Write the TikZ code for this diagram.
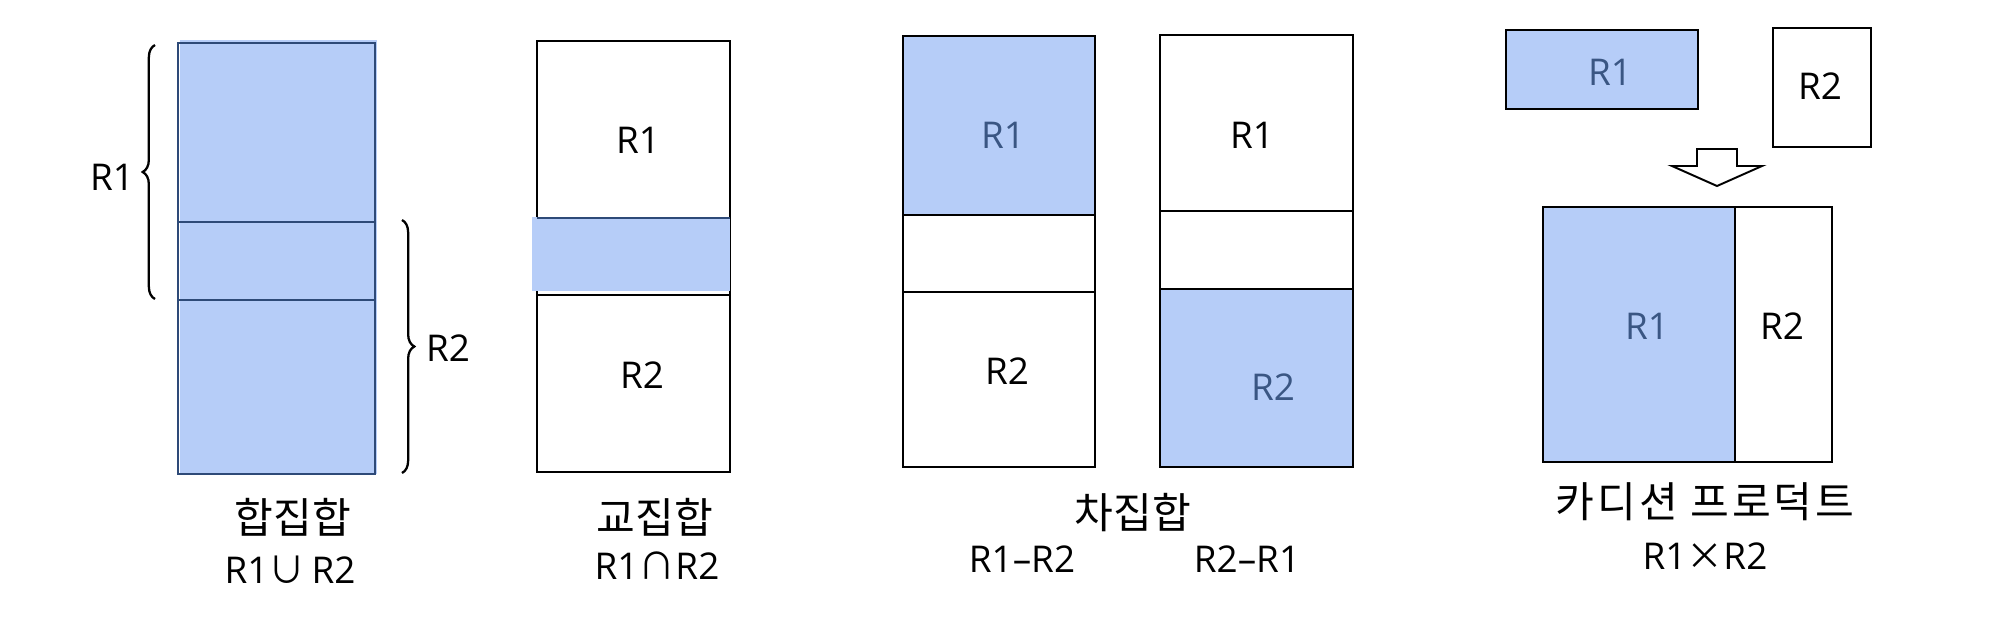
\documentclass[tikz,border=0pt]{standalone}
\usepackage{fontspec}
\setmainfont{Open Sans}
\newfontfamily\kr{Noto Sans CJK KR}
\newfontfamily\krwide[LetterSpace=7]{Noto Sans CJK KR}
\usetikzlibrary{decorations.pathreplacing}
\definecolor{setblue}{HTML}{B6CDF8}
\definecolor{setedge}{HTML}{2E4A78}
\definecolor{settext}{HTML}{3A5683}
\tikzset{
  relbox/.style={draw=black, line width=1.6pt},
  unionline/.style={draw=setedge, line width=1.6pt},
  hit/.style={fill=setblue},
  lbl/.style={font=\fontsize{21}{25}\selectfont, inner sep=0pt},
  hitlbl/.style={lbl, text=settext},
  krlbl/.style={font=\kr\fontsize{24}{28}\selectfont, inner sep=0pt},
  setbrace/.style={decorate, decoration={brace, amplitude=7pt}, line width=1.3pt}
}
\begin{document}
\begin{tikzpicture}[x=0.02cm, y=-0.02cm]
\useasboundingbox (0,0) rectangle (2000,627);

% Union
\fill[hit] (180,40) rectangle (377,474);
\draw[unionline] (178,43) rectangle (375,474);
\draw[unionline] (178,222) -- (375,222);
\draw[unionline] (178,300) -- (375,300);
\coordinate (r1top) at (155,45);
\coordinate (r1bot) at (155,299);
\draw[setbrace] (r1bot) -- (r1top);
\node[lbl] (ur1) at (112,177) {R1};
\coordinate (r2top) at (402,220);
\coordinate (r2bot) at (402,473);
\draw[setbrace] (r2top) -- (r2bot);
\node[lbl] (ur2) at (448,348) {R2};
\node[krlbl] (union) at (293,517) {합집합};
\node[lbl] (unionop) at (290,570) {R1{\kr∪}\,R2};

% Intersection
\draw[relbox] (537,41) rectangle (730,472);
\draw[relbox] (537,295) -- (730,295);
\fill[hit] (532,217) rectangle (730,291);
\draw[line width=1.2pt, draw=setedge] (537,218) -- (730,218);
\node[lbl] (ir1) at (638,140) {R1};
\node[lbl] (ir2) at (642,375) {R2};
\node[krlbl] (inter) at (655,517) {교집합};
\node[lbl] (interop) at (657,566) {R1{\kr∩}R2};

% Difference R1-R2
\fill[hit] (903,36) rectangle (1095,215);
\draw[relbox] (903,36) rectangle (1095,467);
\draw[relbox] (903,215) -- (1095,215);
\draw[relbox] (903,292) -- (1095,292);
\node[hitlbl] (dar1) at (1003,135) {R1};
\node[lbl] (dar2) at (1007,371) {R2};

% Difference R2-R1
\fill[hit] (1160,289) rectangle (1353,467);
\draw[relbox] (1160,35) rectangle (1353,467);
\draw[relbox] (1160,211) -- (1353,211);
\draw[relbox] (1160,289) -- (1353,289);
\node[lbl] (dbr1) at (1252,135) {R1};
\node[hitlbl] (dbr2) at (1273,387) {R2};
\node[krlbl] (diff) at (1133,513) {차집합};
\node[lbl] (diffa) at (1022,559) {R1–R2};
\node[lbl] (diffb) at (1247,559) {R2–R1};

% Cartesian product
\fill[hit] (1506,30) rectangle (1698,109);
\draw[relbox, line width=1.2pt] (1506,30) rectangle (1698,109);
\node[hitlbl] (cr1) at (1610,72) {R1};
\draw[relbox, line width=1.2pt] (1773,28) rectangle (1871,147);
\node[lbl] (cr2) at (1820,86) {R2};
\draw[relbox, line width=1.1pt, line join=miter]
  (1697,149) -- (1737,149) -- (1737,166) -- (1762,166) -- (1717,186)
  -- (1672,166) -- (1697,166) -- cycle;
\fill[hit] (1543,207) rectangle (1735,462);
\draw[relbox, line width=1.1pt] (1543,207) rectangle (1832,462);
\draw[relbox, line width=1.1pt] (1735,207) -- (1735,462);
\node[hitlbl] (pr1) at (1647,326) {R1};
\node[lbl] (pr2) at (1782,326) {R2};
\node[inner sep=0pt, font=\krwide\fontsize{24}{28}\selectfont] (cart) at (1705,502) {카디션 프로덕트};
\node[lbl] (cartop) at (1705,556) {R1{\kr×}R2};
\end{tikzpicture}
\end{document}
